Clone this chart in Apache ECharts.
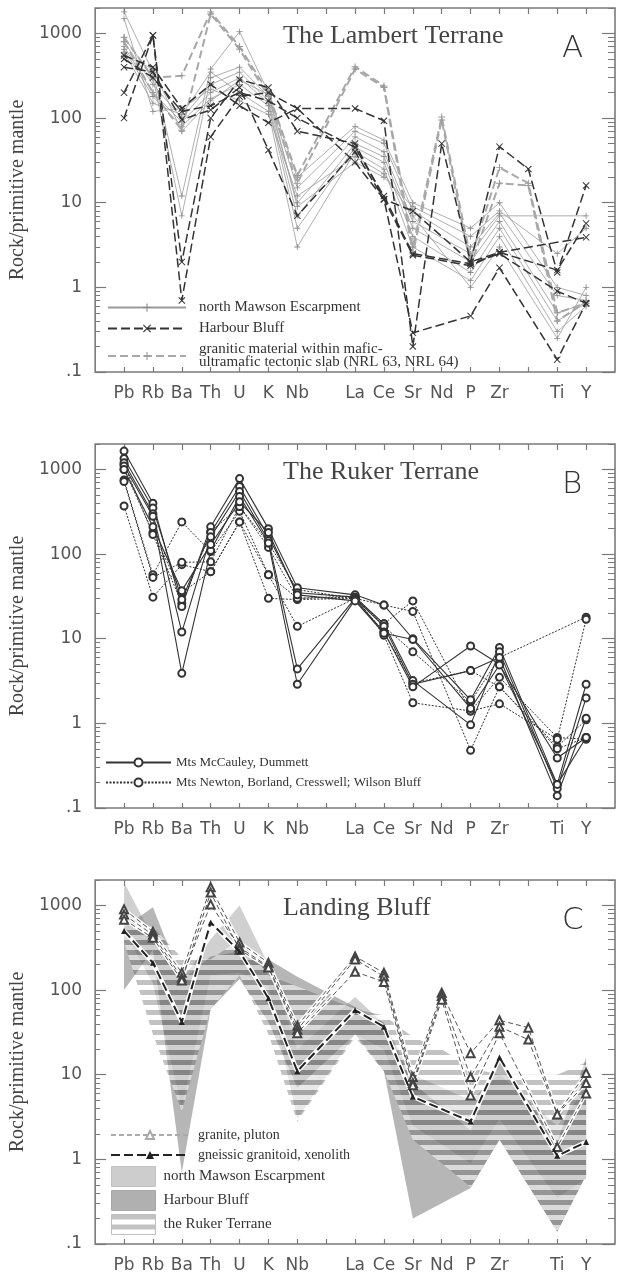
<!DOCTYPE html>
<html>
<head>
<meta charset="utf-8">
<script src="https://cdn.jsdelivr.net/npm/echarts@6/dist/echarts.min.js"></script>
<style>
  html, body { margin: 0; padding: 0; background: #fff; }
  #chart { width: 617px; height: 1275px; }
</style>
</head>
<body>
<div id="chart"></div>
<script>
// Element order along the x axis (two unlabeled slots kept as spacing)
const ELEMENTS = ['Pb','Rb','Ba','Th','U','K','Nb','','La','Ce','Sr','Nd','P','Zr','','Ti','Y'];
const MAJOR_TICKS = [0.1, 1, 10, 100, 1000];
const n = null;

// A: The Lambert Terrane
const mawsonA = [
  [1800, 350, 12, 380, 1050, 200, 20, n, 80, 55, 10, n, 5, 10, n, 1.0, 0.8],
  [900, 300, 7, 300, 400, 180, 15, n, 70, 50, 8, n, 3, 7.5, n, 0.8, 0.7],
  [800, 250, 100, 250, 350, 160, 10, n, 60, 40, 6, n, 2.5, 7, n, n, 7],
  [700, 200, 90, 200, 300, 150, 7, n, 50, 35, 5, n, 2, 6, n, 0.5, 0.65],
  [650, 180, 80, 170, 250, 140, 5, n, 45, 30, 4, n, 1.5, 5, n, 0.4, 0.65],
  [600, 150, 110, 350, 200, 120, 3, n, 40, 25, 3, n, 1.2, 4, n, 0.3, 0.6],
  [1500, 120, 130, 220, 160, 110, 12, n, 35, 22, 7, n, 1, 3, n, 0.25, 1],
  [550, 380, 70, 160, 280, 190, 9, n, 30, 20, 9, n, 4, 8, n, 2.5, 5]
];
const harbourA = [
  [100, 950, 0.7, 60, 180, 200, 130, n, 130, 93, 0.2, 50, 2, 46, 25, 1.5, 16],
  [200, 950, 2, 100, 285, 230, 70, n, 50, 11, 2.4, n, 1.8, 2.6, n, 1.6, 5.7],
  [550, 400, 130, 250, 140, 88, 130, n, 30, 11, 0.29, n, 0.46, 1.7, n, 0.14, 0.65],
  [400, 350, 96, 125, 230, 42, 7, n, 40, 11, 8, n, 2, 2.6, n, n, 3.9],
  [500, 300, 120, 140, 200, 160, 100, n, 45, 12, 2.5, n, 1.9, 2.5, n, 0.9, 0.65]
];
const slabA = [
  [900, 300, 316, 1800, 700, 200, 21, n, 405, 240, 3, 103, 2.2, 26, 17, 0.5, 0.65],
  [800, 200, 72, 1700, 650, 180, 17, n, 380, 230, 2.5, 95, 1.8, 17, 16, 0.4, 0.68]
];

// B: The Ruker Terrane
const mccauleyB = [
  [1650, 400, 24, 210, 780, 200, 40, n, 33, 25, 10, n, 1.9, 7.9, n, 0.19, 2.9],
  [1350, 350, 29, 180, 630, 160, 35, n, 31, 15, 3.2, n, 0.96, 7, n, 0.17, 2.0],
  [1200, 300, 12, 160, 550, 145, 4.4, n, 30, 14, 2.9, n, 4.2, 6, n, 0.14, 1.15],
  [1100, 280, 3.9, 110, 480, 135, 2.9, n, 29, 12, 2.7, n, 8.2, 5, n, 0.19, 0.68],
  [1000, 210, 37, 130, 415, 180, 33, n, 28, 11.6, 9.8, n, 1.5, 4.9, n, 0.39, 0.68]
];
const newtonB = [
  [370, 31, 75, 62, 240, 30, 29, n, 30, 15, 28, n, 1.4, 3.5, n, 0.68, 0.65],
  [750, 57, 240, 107, 320, 57, 14, n, 30, 25, 21, n, 0.48, 2.7, n, 0.53, 1.1],
  [720, 53, 80, 81, 365, 120, 30, n, 32, 14, 7, n, 1.8, 6, n, n, 18],
  [1000, 180, 35, 62, 240, 57, 30, n, 31, 11, 1.75, n, 1.4, 1.7, n, 0.65, 17],
  [1150, 170, 26, 184, 365, 135, 38, n, 30, 12, 3, n, 4.2, 2.7, n, 0.5, 0.68]
];

// C: Landing Bluff
const graniteC = [
  [900, 490, 160, 1640, 365, 210, 38, n, 250, 160, 9.4, 93, 18, 44, 36, 3.4, 10.5],
  [780, 450, 140, 1030, 320, 190, 34, n, 230, 145, 8, 85, 9.4, 37, 26, 3.4, 8],
  [680, 415, 130, 1420, 300, 185, 31, n, 165, 125, 7.5, 77, 5.7, 31, n, 1.4, 6]
];
const gneissC = [
  [500, 210, 42, 630, 285, 80, 11, n, 58, 37, 5.5, n, 2.8, 16, n, 1.1, 1.6]
];
// Field envelopes (upper / lower bounds) shown as shaded areas
const mawsonUpper = [1870, 420, 130, 400, 1000, 200, 20, n, 83, 40, 10, n, 5, 10, n, 2.5, 7];
const mawsonLower = [500, 120, 4, 150, 160, 110, 3, n, 30, 20, 2.5, n, 0.9, 3, n, 0.35, 0.6];
const harbourUpper = [550, 950, 130, 250, 285, 230, 144, n, 63, 41, 8, n, 2.2, 15, n, 1.6, 16];
const harbourLower = [100, 300, 0.7, 60, 135, 42, 7, n, 30, 11, 0.2, n, 0.46, 1.7, n, 0.14, 0.65];
const rukerUpper = [600, 560, 240, 230, 400, 150, 110, n, 60, 50, 28, 20, 12, 10, n, 10, 14];
const rukerLower = [370, 30, 3.7, 60, 150, 30, 2.8, n, 28, 11, 1.7, n, 0.47, 1.7, n, 0.14, 0.65];

// ---------------------------------------------------------------------------
const SANS = 'DejaVu Sans';
const SERIF = 'Liberation Serif';
const FRAME = '#7a7a7a';
const GRID_TOPS = [8, 444, 880];
const GRID_LEFT = 94, GRID_W = 521, GRID_H = 364;

const TICK_X = ELEMENTS.map((_, i) => i + 1);
const MINOR_TICKS = [];
MAJOR_TICKS.forEach(d => {
  for (let k = 2; k <= 9; k++) {
    const v = +(k * d).toPrecision(3);
    if (v <= 2000) MINOR_TICKS.push(v);
  }
});

const PLUS = 'path://M4.3,0h1.4v4.3h4.3v1.4h-4.3v4.3h-1.4v-4.3h-4.3v-1.4h4.3z';
const CROSS = 'path://M0,1L1,0L5,4L9,0L10,1L6,5L10,9L9,10L5,6L1,10L0,9L4,5Z';

function points(vals) {
  const out = [];
  vals.forEach((v, i) => { if (v != null) out.push([i + 1, v]); });
  return out;
}

// Striped fill for the Ruker Terrane field
const stripe = document.createElement('canvas');
stripe.width = 10; stripe.height = 10;
(function () {
  const c = stripe.getContext('2d');
  c.fillStyle = 'rgba(95,95,95,0.38)';
  c.fillRect(0, 0, 10, 5);
  c.fillStyle = 'rgba(255,255,255,0.5)';
  c.fillRect(0, 5, 10, 5);
})();
const STRIPES = { image: stripe, repeat: 'repeat' };

const grids = [], xAxes = [], yAxes = [];
GRID_TOPS.forEach((top, p) => {
  grids.push({ left: GRID_LEFT, top: top, width: GRID_W, height: GRID_H, show: true,
    borderColor: FRAME, borderWidth: 1.6, backgroundColor: 'transparent' });
  const xBase = { gridIndex: p, type: 'value', min: 0, max: 18,
    axisLine: { show: false }, splitLine: { show: false } };
  xAxes.push(Object.assign({}, xBase, { position: 'bottom',
    axisTick: { inside: true, length: 5, customValues: TICK_X, lineStyle: { color: FRAME, width: 1.2 } },
    axisLabel: { customValues: TICK_X, formatter: v => ELEMENTS[Math.round(v) - 1] || '',
      margin: 13, fontFamily: SANS, fontSize: 17, color: '#555' } }));
  xAxes.push(Object.assign({}, xBase, { position: 'top',
    axisTick: { inside: true, length: 6, customValues: TICK_X, lineStyle: { color: FRAME, width: 1.2 } },
    axisLabel: { show: false } }));
  const yBase = { gridIndex: p, type: 'log', logBase: 10, min: 0.1, max: 2000,
    axisLine: { show: false }, splitLine: { show: false } };
  yAxes.push(Object.assign({}, yBase, { position: 'left',
    name: 'Rock/primitive mantle', nameLocation: 'middle', nameGap: 60,
    nameTextStyle: { fontFamily: SERIF, fontSize: 20, color: '#444' },
    axisTick: { inside: true, length: 11, customValues: MAJOR_TICKS, lineStyle: { color: FRAME, width: 1.2 } },
    axisLabel: { customValues: MAJOR_TICKS, margin: 13, fontFamily: SANS, fontSize: 17,
      color: '#555', formatter: v => v < 0.5 ? '.1' : String(Math.round(v)) } }));
  yAxes.push(Object.assign({}, yBase, { position: 'left',
    axisTick: { inside: true, length: 5, customValues: MINOR_TICKS, lineStyle: { color: FRAME, width: 1 } },
    axisLabel: { show: false } }));
  yAxes.push(Object.assign({}, yBase, { position: 'right',
    axisTick: { inside: true, length: 13, customValues: MAJOR_TICKS, lineStyle: { color: FRAME, width: 1.2 } },
    axisLabel: { show: false } }));
  yAxes.push(Object.assign({}, yBase, { position: 'right',
    axisTick: { inside: true, length: 7, customValues: MINOR_TICKS, lineStyle: { color: FRAME, width: 1 } },
    axisLabel: { show: false } }));
});

const series = [];
function addLines(rows, p, name, style) {
  rows.forEach(r => {
    series.push(Object.assign({
      type: 'line', name: name, xAxisIndex: 2 * p, yAxisIndex: 4 * p,
      data: points(r), silent: true, animation: false
    }, JSON.parse(JSON.stringify(style))));
  });
}
function addArea(name, upper, lower, fill, p, z) {
  const data = points(upper).concat(points(lower).reverse());
  series.push({
    type: 'custom', name: name, xAxisIndex: 2 * p, yAxisIndex: 4 * p, z: z,
    silent: true, animation: false, data: data,
    renderItem: function (params, api) {
      if (params.dataIndex !== 0) return;
      const pts = data.map(d => api.coord(d));
      return { type: 'polygon', shape: { points: pts }, style: { fill: fill } };
    }
  });
}

// Panel A lines
addLines(mawsonA, 0, 'mawsonA', { symbol: PLUS, symbolSize: 6, z: 3,
  lineStyle: { color: '#9a9a9a', width: 0.8 }, itemStyle: { color: '#8a8a8a' } });
addLines(slabA, 0, 'slabA', { symbol: PLUS, symbolSize: 7, z: 4,
  lineStyle: { color: '#a8a8a8', width: 2, type: [8, 4] }, itemStyle: { color: '#9a9a9a' } });
addLines(harbourA, 0, 'harbourA', { symbol: CROSS, symbolSize: 7, z: 5,
  lineStyle: { color: '#333', width: 1.5, type: [9, 4] }, itemStyle: { color: '#333' } });

// Panel B lines
addLines(mccauleyB, 1, 'mccauleyB', { symbol: 'emptyCircle', symbolSize: 7, z: 5,
  lineStyle: { color: '#333', width: 1.1 }, itemStyle: { color: '#333', borderWidth: 1 } });
addLines(newtonB, 1, 'newtonB', { symbol: 'emptyCircle', symbolSize: 7, z: 4,
  lineStyle: { color: '#333', width: 1, type: [2, 1.5] }, itemStyle: { color: '#333', borderWidth: 1 } });

// Panel C fields
addArea('mawsonC', mawsonUpper, mawsonLower, 'rgba(150,150,150,0.45)', 2, 1);
addArea('harbourC', harbourUpper, harbourLower, 'rgba(110,110,110,0.5)', 2, 1);
addArea('rukerC', rukerUpper, rukerLower, STRIPES, 2, 1);

// Panel C lines (white casing beneath each dashed line)
addLines(graniteC, 2, 'graniteCase', { symbol: 'none', z: 3,
  lineStyle: { color: '#fff', width: 3.5 } });
addLines(gneissC, 2, 'gneissCase', { symbol: 'none', z: 3,
  lineStyle: { color: '#fff', width: 4.5 } });
addLines(graniteC, 2, 'graniteC', { symbol: 'emptyTriangle', symbolSize: 8, z: 4,
  lineStyle: { color: '#555', width: 1, type: [5, 3] }, itemStyle: { color: '#444', borderWidth: 1 } });
addLines(gneissC, 2, 'gneissC', { symbol: 'triangle', symbolSize: 6, z: 5,
  lineStyle: { color: '#222', width: 2, type: [9, 4] }, itemStyle: { color: '#222' } });

const LEGEND_TEXT = {
  mawsonA: 'north Mawson Escarpment',
  harbourA: 'Harbour Bluff',
  slabA: 'granitic material within mafic-\nultramafic tectonic slab (NRL 63, NRL 64)',
  mccauleyB: 'Mts McCauley, Dummett',
  newtonB: 'Mts Newton, Borland, Cresswell; Wilson Bluff',
  graniteC: 'granite, pluton',
  gneissC: 'gneissic granitoid, xenolith',
  mawsonC: 'north Mawson Escarpment',
  harbourC: 'Harbour Bluff',
  rukerC: 'the Ruker Terrane'
};
const fmt = name => LEGEND_TEXT[name];
const legendBase = { orient: 'vertical', padding: 0, selectedMode: false, formatter: fmt,
  itemHeight: 10 };

const legends = [
  Object.assign({}, legendBase, { left: 107, top: 300, itemWidth: 78, itemGap: 6,
    data: ['mawsonA', 'harbourA', 'slabA'],
    textStyle: { fontFamily: SERIF, fontSize: 15, lineHeight: 13, color: '#333', padding: [0, 0, 0, 8] } }),
  Object.assign({}, legendBase, { left: 105, top: 756, itemWidth: 65, itemGap: 7,
    data: ['mccauleyB', 'newtonB'],
    textStyle: { fontFamily: SERIF, fontSize: 13, lineHeight: 13, color: '#333' } }),
  Object.assign({}, legendBase, { left: 110, top: 1128, itemWidth: 78, itemGap: 6,
    data: [{ name: 'graniteC', lineStyle: { color: '#aaa' }, itemStyle: { color: '#aaa', borderColor: '#aaa' } }, 'gneissC'],
    textStyle: { fontFamily: SERIF, fontSize: 14, lineHeight: 13, color: '#333', padding: [0, 0, 0, 4] } }),
  Object.assign({}, legendBase, { left: 111, top: 1166, itemWidth: 44, itemHeight: 20, itemGap: 3,
    data: [
      { name: 'mawsonC', icon: 'rect', itemStyle: { color: '#cdcdcd', borderColor: '#c2c2c2', borderWidth: 1 } },
      { name: 'harbourC', icon: 'rect', itemStyle: { color: '#b0b0b0', borderColor: '#a8a8a8', borderWidth: 1 } },
      { name: 'rukerC', icon: 'rect', itemStyle: { color: STRIPES, borderColor: '#c0c0c0', borderWidth: 1 } }
    ],
    textStyle: { fontFamily: SERIF, fontSize: 15, color: '#333', padding: [0, 0, 0, 3] } })
];

const titles = [];
[['The Lambert Terrane', 'A'], ['The Ruker Terrane', 'B'], ['Landing Bluff', 'C']].forEach((t, p) => {
  titles.push({ text: t[0], left: 283, top: GRID_TOPS[p] + 15, padding: 0,
    textStyle: { fontFamily: SERIF, fontSize: 26, fontWeight: 'normal', color: '#444' } });
  titles.push({ text: t[1], left: 562, top: GRID_TOPS[p] + 25, padding: 0,
    textStyle: { fontFamily: SANS, fontSize: 31, fontWeight: 200, color: '#333' } });
});

const chart = echarts.init(document.getElementById('chart'), null, { renderer: 'canvas' });
chart.setOption({
  animation: false,
  backgroundColor: '#fff',
  title: titles,
  legend: legends,
  grid: grids,
  xAxis: xAxes,
  yAxis: yAxes,
  series: series
});
</script>
</body>
</html>
